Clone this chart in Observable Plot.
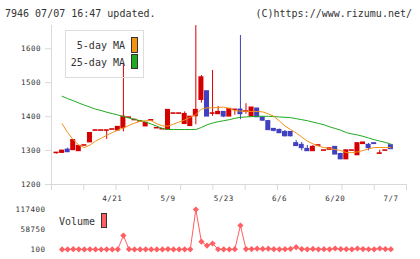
<!DOCTYPE html>
<html><head><meta charset="utf-8">
<script src="https://cdn.jsdelivr.net/npm/d3@7"></script>
<script src="https://cdn.jsdelivr.net/npm/@observablehq/plot@0.6"></script>
<style>
html,body{margin:0;padding:0;background:#fff;}
#wrap{position:relative;width:420px;height:259px;overflow:hidden;font-family:"DejaVu Sans Mono",monospace;color:#333;}
.t{position:absolute;white-space:pre;font-size:10px;line-height:12px;}
.sw{position:absolute;border:1px solid #333;}
.chart{position:absolute;left:0;}
svg{overflow:visible}
</style></head><body><div id="wrap"></div>
<script>
// ---- data ----
const days = [1,2,3,4,5,6,7,8,9,10,11,12,13,14,15,16,17,18,19,20,21,22,23,24,25,26,27,28,29,30,31,32,33,34,35,36,37,38,39,40,41,42,43,44,45,46,47,48,49,50,51,52,53,54,55,56,57,58,59,60,61];
const open  = [1293,1294,1302,1302,1299,1315,1325,1359,1359,1359,1362,1360,1367,1397,1390,1386,1372,1389,1366,1363,1362,1409,1409,1379,1373,1402,1450,1474,1409,1408,1413,1401,1420,1420,1415,1401,1423,1397,1386,1363,1360,1354,1354,1321,1316,1304,1299,1315,1300,1303,1310,1289,1275,1300,1287,1320,1316,1321,1291,1300,1315];
const high  = [1293,1299,1307,1330,1313,1315,1351,1359,1359,1359,1362,1369,1557,1397,1390,1386,1381,1389,1366,1363,1419,1409,1409,1414,1399,1668,1521,1474,1536,1430,1413,1422,1420,1639,1438,1426,1423,1397,1389,1363,1363,1359,1354,1330,1324,1315,1315,1315,1300,1306,1310,1292,1300,1300,1321,1323,1321,1321,1301,1300,1315];
const low   = [1290,1292,1296,1302,1299,1315,1325,1359,1359,1333,1362,1360,1355,1397,1390,1386,1372,1389,1366,1363,1362,1409,1409,1379,1373,1376,1440,1401,1401,1408,1397,1401,1404,1391,1407,1401,1399,1386,1361,1355,1350,1340,1340,1314,1299,1299,1299,1315,1300,1303,1289,1275,1275,1300,1287,1320,1299,1320,1291,1300,1305];
const close = [1293,1299,1296,1330,1313,1315,1351,1359,1359,1359,1362,1369,1399,1397,1390,1386,1381,1389,1366,1363,1419,1409,1409,1407,1399,1419,1515,1401,1409,1413,1401,1422,1420,1408,1415,1426,1399,1389,1361,1359,1352,1343,1343,1314,1308,1299,1310,1315,1300,1306,1289,1275,1300,1300,1321,1323,1308,1320,1291,1300,1305];
const ma5   = [null,1379,1353,1332,1316,1309,1316,1328,1336,1345,1353,1360,1367,1374,1381,1386,1388,1388,1379,1373,1372,1378,1384,1390,1398,1406,1422,1426,1426,1427,1428,1424,1418,1416,1416,1415,1415,1414,1408,1401,1387,1372,1362,1352,1340,1328,1320,1313,1309,1306,1303,1300,1294,1294,1296,1300,1305,1309,1309,1309,1309];
const ma25  = [null,1460,1453,1447,1440,1434,1428,1422,1418,1413,1409,1405,1400,1396,1392,1388,1384,1378,1372,1365,1362,1362,1362,1362,1362,1362,1368,1376,1381,1385,1388,1391,1395,1398,1399,1400,1401,1401,1401,1400,1399,1398,1397,1394,1391,1388,1384,1380,1376,1370,1365,1360,1353,1349,1346,1342,1337,1332,1328,1324,1319];
const volume = [null,400,300,1000,600,200,800,300,100,500,300,700,41000,900,400,300,500,200,300,400,1500,300,200,600,700,117400,23000,11500,17700,800,600,400,900,70500,1500,1200,2500,1800,2500,1000,600,900,2200,6800,1200,700,1800,600,1000,500,3000,1500,900,600,3000,1200,800,600,3000,1400,800];

const labelDays = [11,21,31,41,51,61];
const labelText = ["4/21","5/9","5/23","6/6","6/20","7/7"];
const yTicks = [1200,1300,1400,1500,1600];
const volTicks = [100,58750,117400];

// ---- styling ----
const red = "#d40000", blue = "#4040c0", orange = "#f39215", green = "#1faa1f";
const volColor = "#ff5e62", axisGray = "#d9d9d9", textColor = "#333";
const xDomain = [0.1, 63.8];
const yDomain = [1200, 1668.5];
const xTickMarks = d3.range(12).map(k => xDomain[0] + k * (xDomain[1] - xDomain[0]) / 11);

const rows = days.map((d, k) => ({day: d, open: open[k], high: high[k], low: low[k], close: close[k], ma5: ma5[k], ma25: ma25[k], vol: volume[k]}));
const candleColor = d => d.close >= d.open ? red : blue;

const baseStyle = {fontFamily: "DejaVu Sans Mono", fontSize: "7.5px", letterSpacing: "0.5px", background: "transparent", overflow: "visible", color: textColor};

const priceChart = Plot.plot({
  width: 420, height: 204,
  marginTop: 25, marginRight: 14, marginBottom: 20, marginLeft: 51,
  x: {type: "linear", domain: xDomain},
  y: {type: "linear", domain: yDomain},
  color: {type: "identity"},
  style: baseStyle,
  marks: [
    Plot.ruleX([xDomain[0]], {stroke: axisGray}),
    Plot.ruleY([yDomain[0]], {stroke: axisGray}),
    Plot.axisX(xTickMarks, {tickSize: 6, stroke: axisGray, fill: "none", label: null}),
    Plot.axisX(labelDays, {tickSize: 0, tickPadding: 11, fill: textColor, label: null, tickFormat: d => labelText[labelDays.indexOf(d)]}),
    Plot.axisY(yTicks, {tickSize: 6, tickPadding: 4.5, stroke: axisGray, fill: textColor, label: null, tickFormat: d => `${d}`}),
    Plot.ruleX(rows, {x: "day", y1: "low", y2: "high", stroke: candleColor, strokeWidth: 1}),
    Plot.rect(rows, {x1: d => d.day - 0.45, x2: d => d.day + 0.45, y1: "open", y2: "close", fill: candleColor, insetTop: -0.8, insetBottom: -0.8}),
    Plot.line(rows, {x: "day", y: "ma25", stroke: green, strokeWidth: 1}),
    Plot.line(rows, {x: "day", y: "ma5", stroke: orange, strokeWidth: 1})
  ]
});

const volChart = Plot.plot({
  width: 420, height: 59,
  marginTop: 9, marginRight: 14, marginBottom: 10, marginLeft: 51,
  x: {type: "linear", domain: xDomain, axis: null},
  y: {type: "linear", domain: [volTicks[0], volTicks[2]]},
  style: baseStyle,
  marks: [
    Plot.axisY(volTicks, {tickSize: 0, tickPadding: 6, fill: textColor, label: null, tickFormat: d => `${d}`}),
    Plot.line(rows, {x: "day", y: "vol", stroke: volColor, strokeWidth: 1}),
    Plot.dot(rows, {x: "day", y: "vol", symbol: "diamond2", r: 2.8, fill: volColor, stroke: "none"})
  ]
});

const wrap = document.getElementById("wrap");
priceChart.classList.add("chart"); priceChart.style.top = "0px";
volChart.classList.add("chart"); volChart.style.top = "200px";
wrap.appendChild(priceChart);
wrap.appendChild(volChart);

function addText(txt, css) {
  const el = document.createElement("div");
  el.className = "t"; el.textContent = txt;
  Object.assign(el.style, css);
  wrap.appendChild(el);
  return el;
}
function addBox(css, cls) {
  const el = document.createElement("div");
  el.className = cls || "sw";
  Object.assign(el.style, css);
  wrap.appendChild(el);
}
addText("7946 07/07 16:47 updated.", {left: "5px", top: "8px"});
addText("(C)https://www.rizumu.net/", {right: "8px", top: "8px"});
// price legend
addBox({position: "absolute", left: "65px", top: "30px", width: "77px", height: "46px", border: "1px solid #dcdcdc"}, "lg");
addText("5-day MA", {right: "295px", top: "39.5px"});
addText("25-day MA", {right: "295px", top: "56.8px"});
addBox({left: "131px", top: "37px", width: "5px", height: "14px", background: orange});
addBox({left: "131px", top: "54px", width: "5px", height: "13px", background: green});
// volume legend
addText("Volume", {left: "59px", top: "215.5px"});
addBox({left: "101px", top: "213px", width: "4px", height: "13px", background: volColor});
</script>
</body></html>
